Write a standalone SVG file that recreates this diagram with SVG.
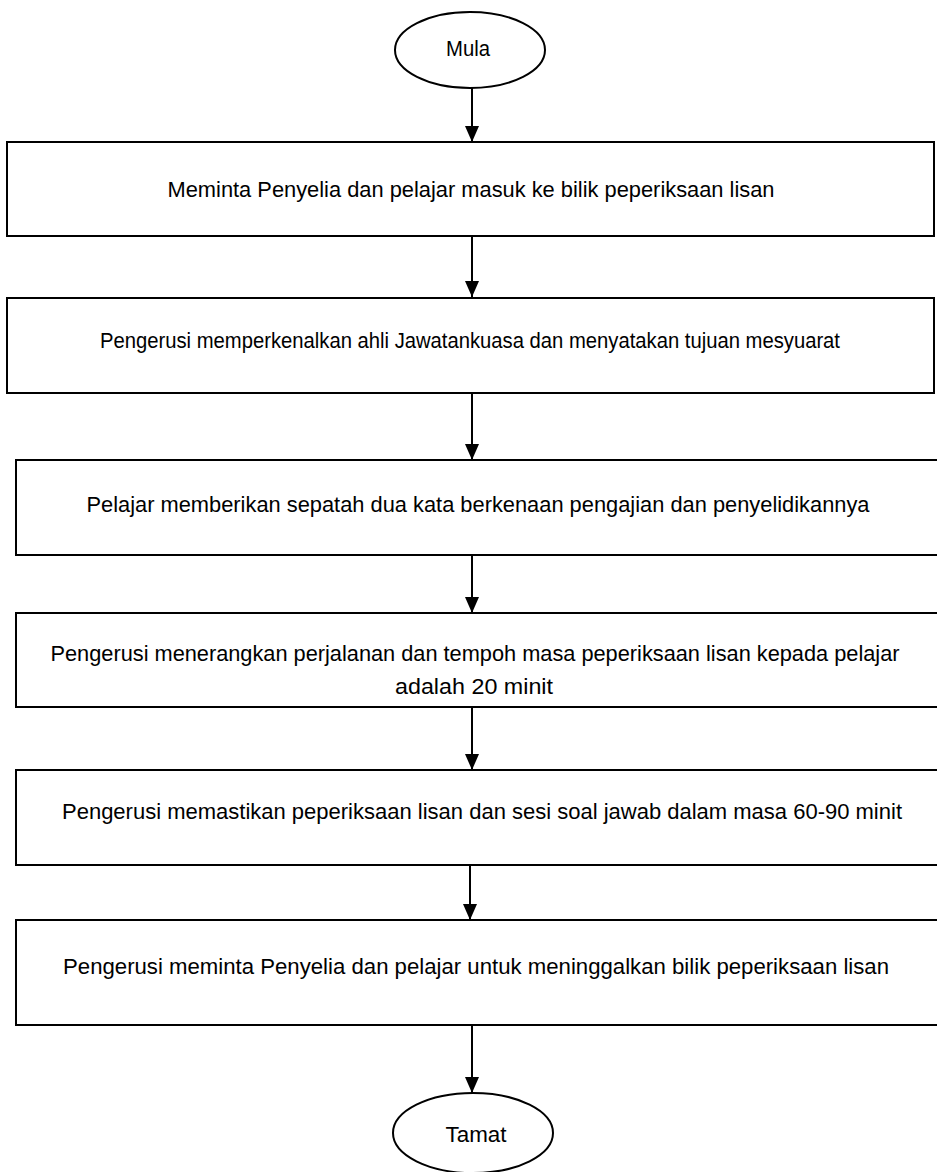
<svg xmlns="http://www.w3.org/2000/svg" width="937" height="1172" viewBox="0 0 937 1172">
<style>
.box{fill:#fff;stroke:#000;stroke-width:2}
.t{font-family:"Liberation Sans",Arial,sans-serif;font-size:22px;fill:#000;text-anchor:middle;dominant-baseline:central}
.c{stroke:#000;stroke-width:2;fill:none}
</style>
<defs>
<marker id="ah" viewBox="0 0 16 14" refX="16" refY="7" markerWidth="16" markerHeight="14" markerUnits="userSpaceOnUse" orient="auto">
<path d="M0,0 L16,7 L0,14 Z" fill="#000"/>
</marker>
</defs>
<rect width="937" height="1172" fill="#fff"/>
<g id="mula">
<ellipse class="box" cx="470" cy="50" rx="75" ry="38"/>
<text class="t" x="468" y="48" textLength="44" lengthAdjust="spacingAndGlyphs">Mula</text>
</g>
<g id="step1">
<rect class="box" x="7" y="142" width="927" height="94"/>
<text class="t" x="471" y="189" textLength="607" lengthAdjust="spacingAndGlyphs">Meminta Penyelia dan pelajar masuk ke bilik peperiksaan lisan</text>
</g>
<g id="step2">
<rect class="box" x="7" y="298" width="927" height="95"/>
<text class="t" x="470" y="340" textLength="740" lengthAdjust="spacingAndGlyphs">Pengerusi memperkenalkan ahli Jawatankuasa dan menyatakan tujuan mesyuarat</text>
</g>
<g id="step3">
<rect class="box" x="16" y="460" width="930" height="95"/>
<text class="t" x="478" y="504" textLength="783" lengthAdjust="spacingAndGlyphs">Pelajar memberikan sepatah dua kata berkenaan pengajian dan penyelidikannya</text>
</g>
<g id="step4">
<rect class="box" x="16" y="613" width="930" height="94"/>
<text class="t" x="475" y="653" textLength="849" lengthAdjust="spacingAndGlyphs">Pengerusi menerangkan perjalanan dan tempoh masa peperiksaan lisan kepada pelajar</text>
<text class="t" x="474" y="686" textLength="158" lengthAdjust="spacingAndGlyphs">adalah 20 minit</text>
</g>
<g id="step5">
<rect class="box" x="16" y="770" width="930" height="95"/>
<text class="t" x="482" y="811" textLength="840" lengthAdjust="spacingAndGlyphs">Pengerusi memastikan peperiksaan lisan dan sesi soal jawab dalam masa 60-90 minit</text>
</g>
<g id="step6">
<rect class="box" x="16" y="920" width="930" height="105"/>
<text class="t" x="476" y="966" textLength="826" lengthAdjust="spacingAndGlyphs">Pengerusi meminta Penyelia dan pelajar untuk meninggalkan bilik peperiksaan lisan</text>
</g>
<g id="tamat">
<ellipse class="box" cx="473" cy="1133" rx="80" ry="40"/>
<text class="t" x="476" y="1134" textLength="61" lengthAdjust="spacingAndGlyphs">Tamat</text>
</g>
<g id="connectors">
<path d="M472,88 V142" class="c" marker-end="url(#ah)"/>
<path d="M472,236 V297" class="c" marker-end="url(#ah)"/>
<path d="M472,393 V460" class="c" marker-end="url(#ah)"/>
<path d="M472,555 V613" class="c" marker-end="url(#ah)"/>
<path d="M472,707 V770" class="c" marker-end="url(#ah)"/>
<path d="M470,865 V920" class="c" marker-end="url(#ah)"/>
<path d="M472,1025 V1093" class="c" marker-end="url(#ah)"/>
</g>
</svg>
